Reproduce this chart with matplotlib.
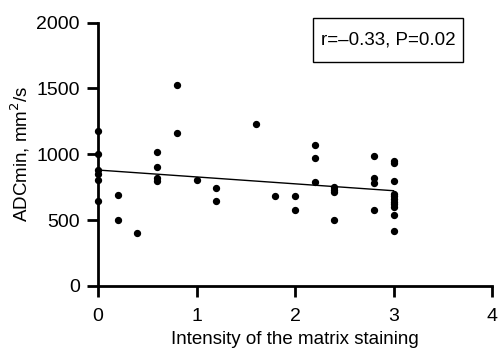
import numpy as np
import matplotlib.pyplot as plt
from matplotlib.patches import Rectangle

plt.rcParams['font.family'] = ['Liberation Sans', 'DejaVu Sans']

# intensity of matrix staining vs ADCmin
intensity = [0, 0, 0, 0, 0, 0,
             0.2, 0.2, 0.4,
             0.6, 0.6, 0.6, 0.6,
             0.8, 0.8, 1.0, 1.2, 1.2,
             1.6, 1.8, 2.0, 2.0,
             2.2, 2.2, 2.2,
             2.4, 2.4, 2.4, 2.4,
             2.8, 2.8, 2.8, 2.8,
             3, 3, 3, 3, 3, 3, 3, 3, 3, 3, 3]
adc = [1175, 1000, 880, 852, 803, 641,
       689, 499, 398,
       1016, 900, 816, 795,
       1530, 1163, 803, 740, 646,
       1229, 682, 682, 580,
       1067, 968, 790,
       752, 732, 714, 499,
       985, 821, 783, 580,
       948, 935, 798, 700, 680, 660, 640, 620, 600, 537, 413]

x = np.array(intensity)
y = np.array(adc)
slope, icept = np.polyfit(x, y, 1)
xl = np.array([0, 3])

fig = plt.figure(figsize=(5, 3.49), dpi=100)
ax = fig.add_axes([0.196, 0.181, 0.788, 0.754])
ax.scatter(x, y, s=18, color='black', zorder=3, clip_on=False)
ax.plot(xl, icept + slope * xl, color='black', lw=1)

ax.set_xlim(0, 4)
ax.set_ylim(0, 2000)
ax.set_xticks([0, 1, 2, 3, 4])
ax.set_yticks([0, 500, 1000, 1500, 2000])
for s in ['top', 'right']:
    ax.spines[s].set_visible(False)
for s in ['left', 'bottom']:
    ax.spines[s].set_linewidth(2)
ax.tick_params(width=2, length=8, labelsize=14, pad=5)
ax.tick_params(axis='x', pad=8)
ax.set_xlabel('Intensity of the matrix staining', fontsize=13.5, labelpad=4)
ax.set_ylabel('ADCmin, mm$^2$/s', fontsize=13.5, labelpad=3)

# stats box
ax.add_patch(Rectangle((0.546, 0.851), 0.38, 0.167, transform=ax.transAxes,
                       fc='white', ec='black', lw=1, clip_on=False, zorder=4))
ax.text(0.736, 0.934, 'r=\u20130.33, P=0.02', transform=ax.transAxes,
        ha='center', va='center', fontsize=13.5, zorder=5)

fig.savefig('out.png', dpi=100)
